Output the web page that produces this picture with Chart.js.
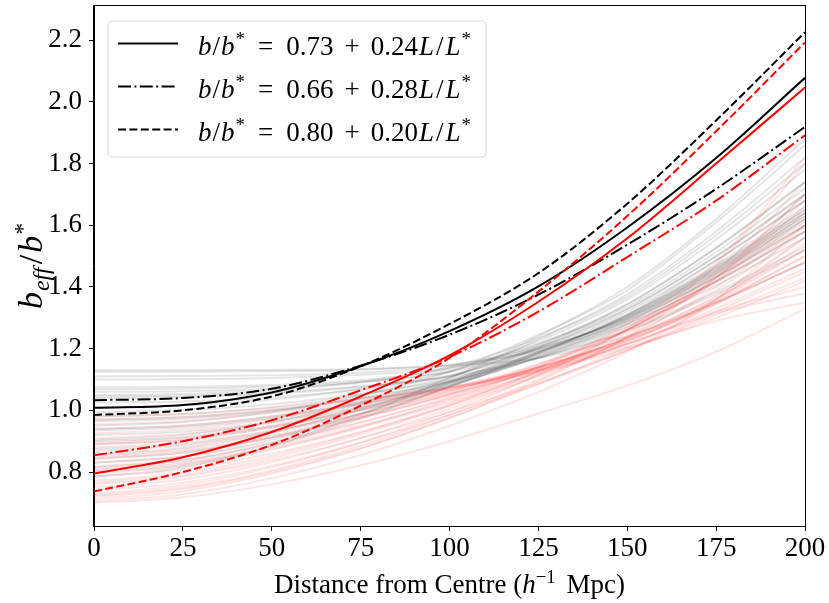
<!DOCTYPE html>
<html><head><meta charset="utf-8">
<script src="https://cdn.jsdelivr.net/npm/chart.js@4.4.1/dist/chart.umd.min.js"></script>
<style>html,body{margin:0;padding:0;background:#fff}#wrap{width:829px;height:603px}</style>
</head><body><div id="wrap"><canvas id="c" width="829" height="603"></canvas></div>
<script>
// ---- data ----
const distances = [0, 25, 50, 75, 100, 125, 150, 175, 200];
const xTicks = [0, 25, 50, 75, 100, 125, 150, 175, 200];
const yTicks = [0.8, 1.0, 1.2, 1.4, 1.6, 1.8, 2.0, 2.2];

const blackSolid   = [1.008, 1.017, 1.058, 1.143, 1.257, 1.402, 1.593, 1.818, 2.078];
const blackDashDot = [1.033, 1.040, 1.070, 1.145, 1.245, 1.375, 1.537, 1.718, 1.919];
const blackDashed  = [0.985, 1.000, 1.045, 1.143, 1.280, 1.445, 1.670, 1.940, 2.226];
const redSolid     = [0.795, 0.848, 0.930, 1.045, 1.178, 1.352, 1.558, 1.800, 2.047];
const redDashDot   = [0.854, 0.900, 0.968, 1.065, 1.173, 1.320, 1.497, 1.680, 1.892];
const redDashed    = [0.737, 0.800, 0.888, 1.015, 1.170, 1.385, 1.630, 1.905, 2.193];

const greyRuns = [
  [1.130,1.130,1.131,1.134,1.145,1.170,1.240,1.350,1.480],
  [1.125,1.125,1.127,1.132,1.148,1.194,1.288,1.432,1.600],
  [1.110,1.111,1.114,1.122,1.145,1.206,1.312,1.472,1.660],
  [1.075,1.076,1.082,1.098,1.135,1.218,1.336,1.513,1.720],
  [1.068,1.070,1.077,1.093,1.124,1.200,1.300,1.452,1.630],
  [1.060,1.062,1.070,1.090,1.128,1.214,1.328,1.500,1.700],
  [1.050,1.053,1.065,1.092,1.140,1.234,1.368,1.568,1.800],
  [1.040,1.043,1.054,1.076,1.112,1.198,1.296,1.445,1.620],
  [1.025,1.029,1.042,1.068,1.112,1.205,1.320,1.486,1.680],
  [1.010,1.016,1.035,1.070,1.125,1.225,1.360,1.554,1.780],
  [0.995,1.001,1.020,1.053,1.100,1.190,1.304,1.459,1.640],
  [0.980,0.988,1.010,1.050,1.108,1.212,1.344,1.527,1.740],
  [0.965,0.973,0.997,1.038,1.094,1.185,1.296,1.445,1.620],
  [0.950,0.962,0.995,1.048,1.125,1.245,1.390,1.610,1.860],
  [0.935,0.945,0.975,1.024,1.092,1.190,1.304,1.459,1.640],
  [0.920,0.931,0.964,1.018,1.088,1.182,1.292,1.438,1.610],
  [0.905,0.920,0.962,1.025,1.105,1.230,1.376,1.580,1.820],
  [0.890,0.904,0.944,1.006,1.085,1.190,1.308,1.465,1.650],
  [0.875,0.890,0.933,1.000,1.080,1.170,1.272,1.404,1.560],
  [0.860,0.878,0.928,1.003,1.095,1.205,1.344,1.527,1.740],
  [0.845,0.863,0.913,0.988,1.078,1.185,1.308,1.465,1.650],
  [0.830,0.850,0.905,0.990,1.090,1.200,1.328,1.500,1.700],
  [0.815,0.837,0.894,0.978,1.076,1.175,1.288,1.432,1.600],
  [0.800,0.823,0.884,0.973,1.076,1.185,1.310,1.486,1.680],
  [0.785,0.815,0.885,0.985,1.105,1.240,1.400,1.620,1.880],
  [1.045,1.048,1.058,1.078,1.110,1.170,1.256,1.377,1.520],
  [0.970,0.978,1.000,1.040,1.094,1.170,1.260,1.384,1.530],
  [0.900,0.913,0.950,1.010,1.082,1.172,1.280,1.418,1.580],
  [1.100,1.101,1.105,1.115,1.138,1.200,1.300,1.452,1.630],
  [0.940,0.950,0.980,1.027,1.090,1.178,1.280,1.418,1.580]
];

const redRuns = [
  [0.700,0.718,0.760,0.822,0.900,0.990,1.080,1.190,1.330],
  [0.705,0.728,0.780,0.855,0.950,1.060,1.190,1.360,1.600],
  [0.712,0.738,0.795,0.875,0.975,1.095,1.240,1.430,1.700],
  [0.720,0.745,0.800,0.878,0.975,1.085,1.205,1.345,1.500],
  [0.730,0.757,0.815,0.895,0.995,1.115,1.265,1.470,1.800],
  [0.740,0.765,0.820,0.895,0.985,1.085,1.195,1.320,1.450],
  [0.750,0.776,0.832,0.910,1.005,1.115,1.250,1.420,1.640],
  [0.760,0.785,0.838,0.910,0.995,1.090,1.195,1.310,1.430],
  [0.772,0.797,0.852,0.928,1.020,1.128,1.260,1.430,1.660],
  [0.785,0.808,0.860,0.930,1.015,1.110,1.220,1.350,1.500],
  [0.795,0.819,0.872,0.946,1.035,1.140,1.280,1.480,1.820],
  [0.805,0.827,0.876,0.945,1.025,1.115,1.215,1.330,1.460],
  [0.818,0.840,0.890,0.960,1.042,1.140,1.260,1.420,1.620],
  [0.830,0.850,0.897,0.962,1.038,1.122,1.215,1.320,1.400],
  [0.842,0.862,0.910,0.975,1.052,1.145,1.262,1.415,1.600],
  [0.855,0.873,0.918,0.980,1.052,1.135,1.235,1.365,1.520],
  [0.868,0.885,0.928,0.988,1.060,1.150,1.270,1.440,1.700],
  [0.880,0.896,0.935,0.990,1.055,1.130,1.215,1.315,1.380],
  [0.895,0.910,0.948,1.002,1.065,1.140,1.235,1.360,1.540],
  [0.910,0.924,0.960,1.010,1.068,1.140,1.230,1.350,1.480],
  [0.925,0.938,0.972,1.020,1.072,1.150,1.262,1.430,1.680],
  [0.940,0.951,0.980,1.022,1.070,1.130,1.205,1.290,1.350],
  [0.955,0.965,0.992,1.030,1.075,1.140,1.230,1.360,1.560],
  [0.970,0.979,1.002,1.035,1.072,1.125,1.200,1.300,1.420],
  [0.980,0.988,1.008,1.038,1.075,1.135,1.225,1.355,1.520],
  [0.725,0.750,0.805,0.885,0.985,1.100,1.235,1.400,1.600],
  [0.765,0.790,0.845,0.922,1.015,1.125,1.260,1.450,1.740],
  [0.810,0.832,0.882,0.950,1.030,1.125,1.240,1.390,1.580],
  [0.850,0.868,0.913,0.975,1.048,1.130,1.225,1.345,1.480],
  [0.890,0.905,0.945,1.000,1.063,1.138,1.235,1.370,1.560]
];

const legendIntercepts = ['0.73', '0.66', '0.80'];
const legendSlopes = ['0.24', '0.28', '0.20'];
const xTitleText = ['Distance from Centre (', 'h', '\u22121', ' Mpc)'];

// ---- styling ----
const FONT = '"Liberation Serif", "Times New Roman", serif';
const FS = 27;
const DASHED = [8, 3.4];
const DASHDOT = [13, 3.4, 2, 3.4];
const legendStyles = [[], DASHDOT, DASHED];

const pts = v => distances.map((x, i) => ({x: x, y: v[i]}));
const datasets = [];
greyRuns.forEach(r => datasets.push({data: pts(r), borderColor: 'rgba(0,0,0,0.10)', borderWidth: 2, order: 200}));
redRuns.forEach(r => datasets.push({data: pts(r), borderColor: 'rgba(255,0,0,0.10)', borderWidth: 2, order: 100}));
const mains = [
  [blackSolid, '#000', []], [blackDashDot, '#000', DASHDOT], [blackDashed, '#000', DASHED],
  [redSolid, '#f00', []], [redDashDot, '#f00', DASHDOT], [redDashed, '#f00', DASHED]
];
mains.forEach((m, i) => datasets.push({data: pts(m[0]), borderColor: m[1], borderDash: m[2], borderWidth: 2, order: 10 - i}));
datasets.forEach(d => { d.pointRadius = 0; d.fill = false; d.cubicInterpolationMode = 'monotone'; });

function drawRich(ctx, segs, x, y, size, measureOnly) {
  let cx = x;
  for (const s of segs) {
    const small = s.sup || s.sub;
    const fs = small ? size * 0.7 : size;
    ctx.font = (s.it ? 'italic ' : '') + fs + 'px ' + FONT;
    const dy = s.sup ? -size * 0.36 : (s.sub ? size * 0.2 : 0);
    if (!measureOnly) ctx.fillText(s.t, cx, y + dy);
    cx += ctx.measureText(s.t).width + (s.gap || 0);
  }
  return cx - x;
}

const decor = {
  id: 'decor',
  afterDraw(chart) {
    const ctx = chart.ctx, a = chart.chartArea;
    ctx.save();
    // frame
    ctx.strokeStyle = '#000'; ctx.lineWidth = 1;
    ctx.strokeRect(Math.round(a.left) - 0.5, Math.round(a.top) - 0.5, Math.round(a.right - a.left) + 1, Math.round(a.bottom - a.top) + 1);
    // legend box
    const bx = 108, by = 21, bw = 378, bh = 136, r = 5;
    ctx.beginPath();
    ctx.moveTo(bx + r, by); ctx.lineTo(bx + bw - r, by); ctx.quadraticCurveTo(bx + bw, by, bx + bw, by + r);
    ctx.lineTo(bx + bw, by + bh - r); ctx.quadraticCurveTo(bx + bw, by + bh, bx + bw - r, by + bh);
    ctx.lineTo(bx + r, by + bh); ctx.quadraticCurveTo(bx, by + bh, bx, by + bh - r);
    ctx.lineTo(bx, by + r); ctx.quadraticCurveTo(bx, by, bx + r, by); ctx.closePath();
    ctx.fillStyle = 'rgba(255,255,255,0.8)'; ctx.fill();
    ctx.strokeStyle = '#d6d6d6'; ctx.lineWidth = 1; ctx.stroke();
    ctx.fillStyle = '#000'; ctx.textBaseline = 'alphabetic'; ctx.textAlign = 'left';
    for (let i = 0; i < 3; i++) {
      const ry = 43.5 + i * 43;
      ctx.beginPath(); ctx.setLineDash(legendStyles[i]); ctx.strokeStyle = '#000'; ctx.lineWidth = 2;
      ctx.moveTo(118, ry); ctx.lineTo(178, ry); ctx.stroke(); ctx.setLineDash([]);
      const segs = [
        {t: 'b', it: true, gap: 1}, {t: '/', gap: 1}, {t: 'b', it: true, gap: 1}, {t: '*', sup: true, gap: 13},
        {t: '=', gap: 13}, {t: legendIntercepts[i], gap: 11}, {t: '+', gap: 11}, {t: legendSlopes[i], gap: 1},
        {t: 'L', it: true, gap: 2}, {t: '/', gap: 2}, {t: 'L', it: true, gap: 1}, {t: '*', sup: true}
      ];
      drawRich(ctx, segs, 198, ry + 11.5, FS);
    }
    // x title
    const xsegs = [{t: xTitleText[0]}, {t: xTitleText[1], it: true}, {t: xTitleText[2], sup: true, gap: 4}, {t: xTitleText[3]}];
    const w = drawRich(ctx, xsegs, 0, 0, FS, true);
    drawRich(ctx, xsegs, (a.left + a.right) / 2 - w / 2, 593, FS);
    // y title
    const YS = 34;
    const ysegs = [{t: 'b', it: true, gap: 1}, {t: 'eff', it: true, sub: true, gap: 3}, {t: '/', gap: 2}, {t: 'b', it: true, gap: 1}, {t: '*', sup: true}];
    const yw = drawRich(ctx, ysegs, 0, 0, YS, true);
    ctx.translate(42, (a.top + a.bottom) / 2);
    ctx.rotate(-Math.PI / 2);
    drawRich(ctx, ysegs, -yw / 2, 0, YS);
    ctx.restore();
  }
};

const tickFont = {family: FONT, size: FS};
new Chart(document.getElementById('c'), {
  type: 'line',
  data: {datasets: datasets},
  plugins: [decor],
  options: {
    responsive: false, animation: false, devicePixelRatio: 1,
    layout: {padding: {left: 0, right: 24, top: 6, bottom: 0}},
    plugins: {legend: {display: false}, tooltip: {enabled: false}},
    scales: {
      x: {
        type: 'linear', min: 0, max: 200,
        afterBuildTicks: s => { s.ticks = xTicks.map(v => ({value: v})); },
        afterFit: s => { s.height = 77; s.paddingLeft = 0; s.paddingRight = 0; s.paddingTop = 0; s.paddingBottom = 0; },
        ticks: {font: tickFont, color: '#000', padding: 2, maxRotation: 0, autoSkip: false, callback: v => String(v)},
        grid: {display: true, drawOnChartArea: false, drawTicks: true, tickLength: 5, color: '#000', lineWidth: 1},
        border: {display: true, color: '#000', width: 1}
      },
      y: {
        type: 'linear', min: 0.625, max: 2.311,
        afterBuildTicks: s => { s.ticks = yTicks.map(v => ({value: v})); },
        afterFit: s => { s.width = 94; s.paddingLeft = 0; s.paddingRight = 0; s.paddingTop = 0; s.paddingBottom = 0; },
        ticks: {font: tickFont, color: '#000', padding: 7, autoSkip: false, callback: v => v.toFixed(1)},
        grid: {display: true, drawOnChartArea: false, drawTicks: true, tickLength: 5, color: '#000', lineWidth: 1},
        border: {display: true, color: '#000', width: 1}
      }
    }
  }
});
</script>
</body></html>
